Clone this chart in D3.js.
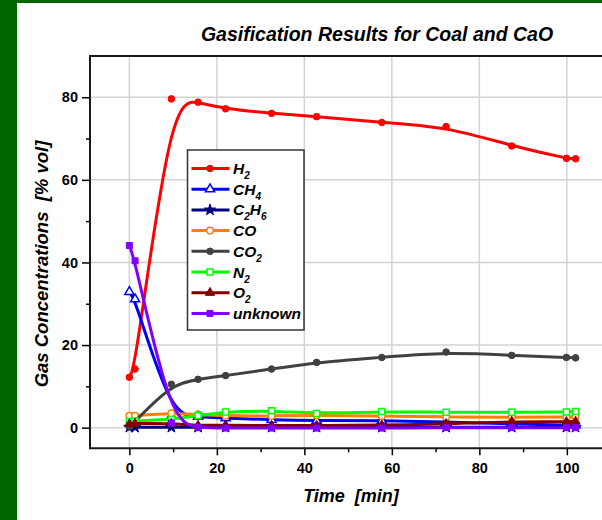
<!DOCTYPE html>
<html>
<head>
<meta charset="utf-8">
<script src="https://cdn.jsdelivr.net/npm/d3@7"></script>
<style>
  html, body { margin: 0; padding: 0; background: #006600; }
  svg { display: block; font-family: "Liberation Sans", Arial, sans-serif; }
</style>
</head>
<body>
<div id="chart"></div>
<script>
'use strict';

// sampling times [min]
var times = [0, 1.3, 9.6, 15.7, 22, 32.5, 42.8, 57.7, 72.4, 87.4, 99.9, 102];

// gas concentrations [% vol]
var h2 = [12.2, 14.2, 79.6, 78.8, 77.2, 76.1, 75.3, 73.9, 72.9, 68.2, 65.2, 65.1];
var ch4 = [32.9, 31.1, 2.8, 2.7, 2.3, 1.9, 1.7, 1.7, 1.4, 0.9, 0.6, 0.6];
var c2h6 = [0.1, 0.1, 0.1, 0.1, 0.1, 0.1, 0.1, 0.1, 0.1, 0.1, 0.1, 0.1];
var co = [2.9, 2.9, 3.5, 3.2, 2.9, 2.8, 3.0, 2.8, 2.6, 2.5, 2.6, 2.6];
var co2 = [0.2, 1.5, 10.5, 11.7, 12.6, 14.2, 15.8, 17.0, 18.3, 17.5, 17.0, 16.9];
var n2 = [1.5, 1.6, 2.0, 2.9, 3.8, 4.1, 3.4, 3.9, 3.7, 3.7, 3.8, 3.9];
var o2 = [0.9, 1.0, 1.0, 0.5, 0.6, 0.5, 0.5, 0.6, 0.9, 1.5, 1.4, 1.5];
var unknown = [44.1, 40.4, 1.1, 0.0, -0.1, -0.1, -0.1, -0.1, 0.0, 0.0, 0.0, 0.0];

var xTicks = [0, 20, 40, 60, 80, 100];
var xMinor = [10, 30, 50, 70, 90];
var yTicks = [0, 20, 40, 60, 80];
var yMinor = [10, 30, 50, 70];

// label parts: [text, isSubscript]
var series = [
    {name: [['H', 0], ['2', 1]], values: h2, color: '#ff0000', symbol: 'circle', open: false},
    {name: [['CH', 0], ['4', 1]], values: ch4, color: '#0000ff', symbol: 'triangle', open: true},
    {name: [['C', 0], ['2', 1], ['H', 0], ['6', 1]], values: c2h6, color: '#000080', symbol: 'star', open: false},
    {name: [['CO', 0]], values: co, color: '#ff8000', symbol: 'circle', open: true},
    {name: [['CO', 0], ['2', 1]], values: co2, color: '#404040', symbol: 'circle', open: false},
    {name: [['N', 0], ['2', 1]], values: n2, color: '#00ff00', symbol: 'square', open: true},
    {name: [['O', 0], ['2', 1]], values: o2, color: '#800000', symbol: 'triangle', open: false},
    {name: [['unknown', 0]], values: unknown, color: '#8000ff', symbol: 'square', open: false}
];

var width = 602, height = 520;

var svg = d3.select('#chart').append('svg')
    .attr('width', width)
    .attr('height', height);

svg.append('rect')
    .attr('x', 17).attr('y', 3)
    .attr('width', width - 17).attr('height', height - 3)
    .attr('fill', '#ffffff');

var x = d3.scaleLinear().domain([-9, 110]).range([90, 610.6]);
var y = d3.scaleLinear().domain([-5, 90]).range([448.3, 55.95]);

var plotLeft = x.range()[0], plotRight = x.range()[1];
var plotBottom = y.range()[0], plotTop = y.range()[1];

// grid
svg.append('g').selectAll('line.vg').data(xTicks).join('line')
    .attr('x1', function(d) { return x(d); })
    .attr('x2', function(d) { return x(d); })
    .attr('y1', plotTop).attr('y2', plotBottom)
    .attr('stroke', '#d3d3d3').attr('stroke-width', 1.5);
svg.append('g').selectAll('line.hg').data(yTicks).join('line')
    .attr('y1', function(d) { return y(d); })
    .attr('y2', function(d) { return y(d); })
    .attr('x1', plotLeft).attr('x2', plotRight)
    .attr('stroke', '#d3d3d3').attr('stroke-width', 1.5);

// axes
function styleAxis(g) {
    g.select('.domain').remove();
    g.selectAll('.tick line').attr('stroke', '#000').attr('stroke-width', 1.5);
    g.selectAll('.tick text')
        .attr('fill', '#000')
        .style('font-size', '14.5px')
        .style('font-weight', 'bold');
}

svg.append('g')
    .attr('transform', 'translate(0,' + plotBottom + ')')
    .call(d3.axisBottom(x).tickValues(xTicks).tickSize(7).tickPadding(7))
    .call(styleAxis);
svg.append('g')
    .attr('transform', 'translate(0,' + plotBottom + ')')
    .call(d3.axisBottom(x).tickValues(xMinor).tickSize(4).tickFormat(''))
    .call(styleAxis);
svg.append('g')
    .attr('transform', 'translate(' + plotLeft + ',0)')
    .call(d3.axisLeft(y).tickValues(yTicks).tickSize(8).tickPadding(4))
    .call(styleAxis);
svg.append('g')
    .attr('transform', 'translate(' + plotLeft + ',0)')
    .call(d3.axisLeft(y).tickValues(yMinor).tickSize(4).tickFormat(''))
    .call(styleAxis);

// frame
svg.append('path')
    .attr('d', 'M' + plotRight + ',' + plotTop + 'H' + plotLeft + 'V' + plotBottom + 'H' + plotRight)
    .attr('fill', 'none')
    .attr('stroke', '#1a1a1a')
    .attr('stroke-width', 2);

var symbolTypes = {
    circle: d3.symbolCircle,
    triangle: d3.symbolTriangle,
    square: d3.symbolSquare,
    star: d3.symbolStar
};
var symbolSizes = {circle: 34, triangle: 36, square: 36, star: 40};

function symbolPath(s) {
    return d3.symbol().type(symbolTypes[s.symbol]).size(symbolSizes[s.symbol])();
}

function drawMarker(sel, s) {
    sel.attr('d', symbolPath(s))
        .attr('fill', s.open ? '#ffffff' : s.color)
        .attr('stroke', s.color)
        .attr('stroke-width', s.open ? 1.5 : 1);
}

var line = d3.line()
    .x(function(d) { return x(d[0]); })
    .y(function(d) { return y(d[1]); })
    .curve(d3.curveBasis);

var plotG = svg.append('g');

series.forEach(function(s) {
    var pts = times.map(function(t, i) { return [t, s.values[i]]; });
    var g = plotG.append('g');
    g.append('path')
        .attr('d', line(pts))
        .attr('fill', 'none')
        .attr('stroke', s.color)
        .attr('stroke-width', 3);
    g.selectAll('path.m').data(pts).join('path')
        .attr('class', 'm')
        .attr('transform', function(d) { return 'translate(' + x(d[0]) + ',' + y(d[1]) + ')'; })
        .call(drawMarker, s);
});

// legend
var legend = svg.append('g');
legend.append('rect')
    .attr('x', 187.5).attr('y', 150)
    .attr('width', 116.5).attr('height', 180)
    .attr('fill', '#ffffff')
    .attr('stroke', '#333333')
    .attr('stroke-width', 1.5);

series.forEach(function(s, i) {
    var cy = 168.5 + i * 20.7;
    var row = legend.append('g');
    row.append('line')
        .attr('x1', 191.5).attr('x2', 229.5)
        .attr('y1', cy).attr('y2', cy)
        .attr('stroke', s.color)
        .attr('stroke-width', 3);
    row.append('path')
        .attr('transform', 'translate(210,' + cy + ')')
        .call(drawMarker, s);
    var txt = row.append('text')
        .attr('x', 233)
        .attr('y', cy + 5.5)
        .style('font-size', '15.5px')
        .style('font-weight', 'bold')
        .style('font-style', 'italic');
    s.name.forEach(function(p) {
        var ts = txt.append('tspan').text(p[0]);
        if (p[1]) {
            ts.attr('dy', 5).style('font-size', '10px');
        } else if (txt.selectAll('tspan').size() > 1) {
            ts.attr('dy', -5);
        }
    });
});

// titles
svg.append('text')
    .attr('x', 377).attr('y', 41)
    .attr('text-anchor', 'middle')
    .style('font-size', '19.5px')
    .style('font-weight', 'bold')
    .style('font-style', 'italic')
    .text('Gasification Results for Coal and CaO');

svg.append('text')
    .attr('x', 351).attr('y', 502)
    .attr('text-anchor', 'middle')
    .style('font-size', '18px')
    .style('font-weight', 'bold')
    .style('font-style', 'italic')
    .style('white-space', 'pre')
    .text('Time  [min]');

svg.append('text')
    .attr('transform', 'translate(48,264) rotate(-90)')
    .attr('text-anchor', 'middle')
    .style('font-size', '18.5px')
    .style('font-weight', 'bold')
    .style('font-style', 'italic')
    .style('white-space', 'pre')
    .text('Gas Concentrations  [% vol]');
</script>
</body>
</html>
